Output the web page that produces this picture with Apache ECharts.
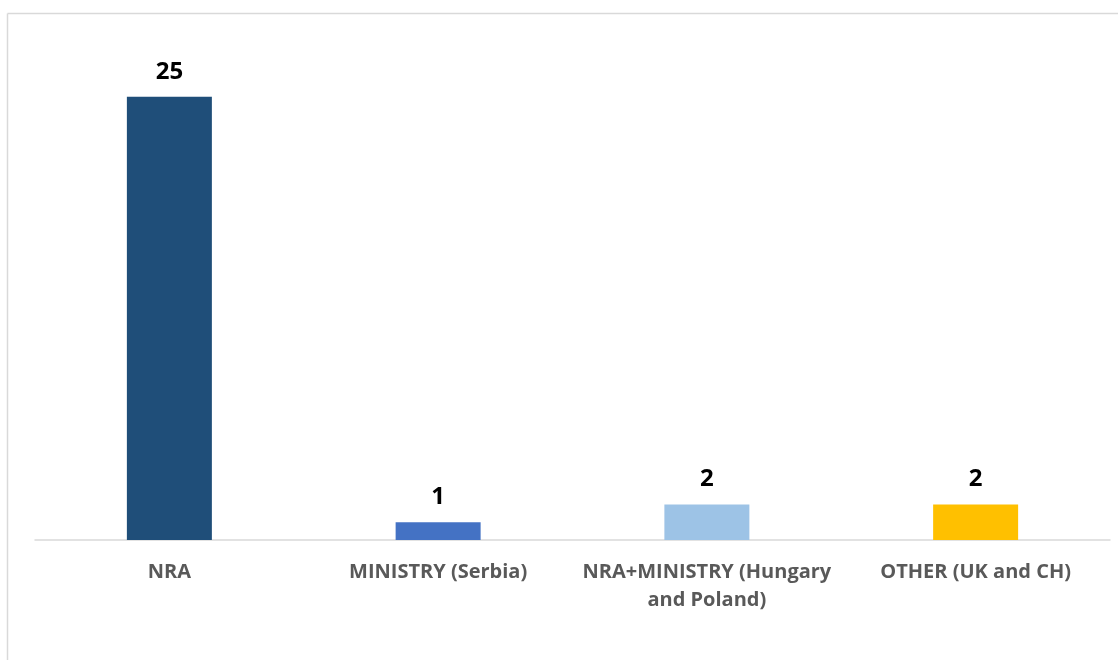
<!DOCTYPE html>
<html><head><meta charset="utf-8">
<script src="https://cdn.jsdelivr.net/npm/echarts@6/dist/echarts.min.js"></script>
<style>html,body{margin:0;padding:0;background:#fff}#c{width:1118px;height:660px}</style>
</head><body><div id="c"></div>
<script>
const categories = ['NRA', 'MINISTRY (Serbia)', 'NRA+MINISTRY (Hungary\nand Poland)', 'OTHER (UK and CH)'];
const values = [25, 1, 2, 2];
const barColors = ['#1F4E79', '#4472C4', '#9DC3E6', '#FFC000'];

const chart = echarts.init(document.getElementById('c'));
chart.setOption({
  animation: false,
  backgroundColor: '#fff',
  graphic: [
    {type: 'line', shape: {x1: 7.5, y1: 13.5, x2: 1118, y2: 13.5}, style: {stroke: '#d9d9d9', lineWidth: 1.5}},
    {type: 'line', shape: {x1: 7.5, y1: 13.5, x2: 7.5, y2: 660}, style: {stroke: '#d9d9d9', lineWidth: 1.5}}
  ],
  grid: {left: 35, right: 8, top: 8, bottom: 120, containLabel: false},
  xAxis: {
    type: 'category',
    data: categories,
    axisLine: {lineStyle: {color: '#d9d9d9', width: 1.5}},
    axisTick: {show: false},
    axisLabel: {
      color: '#595959', fontSize: 20, fontWeight: 'bold',
      fontFamily: 'Open Sans, Liberation Sans, sans-serif',
      margin: 18, lineHeight: 28, interval: 0
    }
  },
  yAxis: {
    type: 'value', min: 0, max: 30, interval: 5,
    show: false
  },
  series: [{
    type: 'bar',
    data: values.map((v, i) => ({value: v, itemStyle: {color: barColors[i]}})),
    barWidth: 85,
    label: {
      show: true, position: 'top', distance: 13,
      color: '#000', fontSize: 24, fontWeight: 'bold',
      fontFamily: 'Open Sans, Liberation Sans, sans-serif'
    }
  }]
});
</script></body></html>
